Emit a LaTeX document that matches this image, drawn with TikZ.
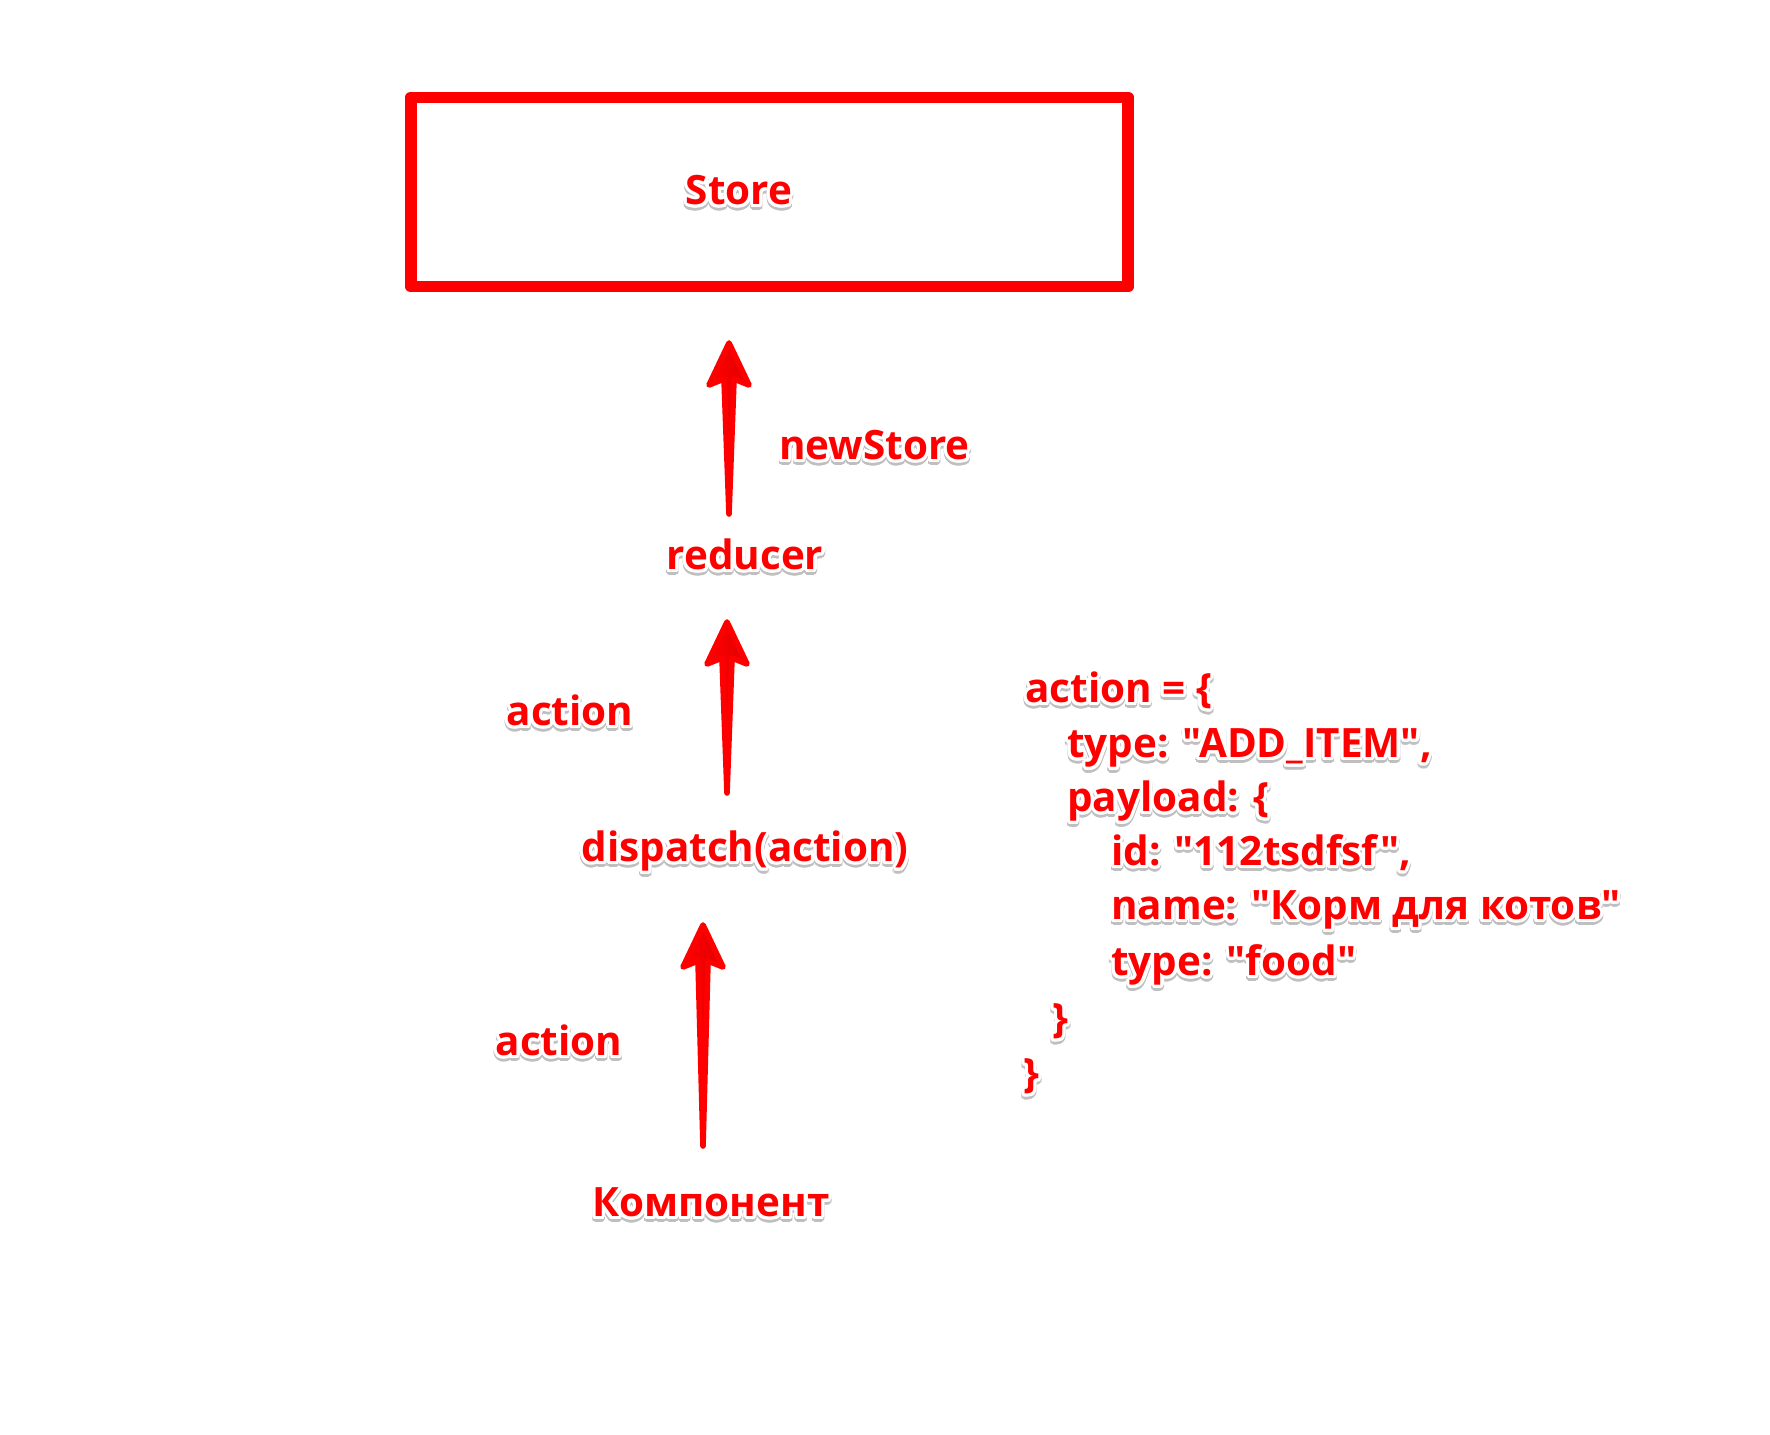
\documentclass[tikz,border=0pt]{standalone}
\usepackage{fontspec}
\usepackage{tikz}
\usepackage{xcolor}
\usepackage{contour}
\usetikzlibrary{calc}
\newfontfamily\lblfont{Open Sans Bold}

\definecolor{storered}{RGB}{255,0,0}
\contourlength{1.8pt}
\contournumber{20}

% texto con halo blanco y sombra gris
\newcommand{\halo}[1]{\leavevmode\rlap{\raisebox{-1.5pt}{\color{black!25}\contour{black!25}{#1}}}\contour{white}{#1}}

% flecha gruesa (cola, punta)
\newcommand{\fatarrow}[2]{%
  \filldraw[arrowbody] (#2) -- ($(#2)+(20,42)$) -- ($(#2)+(5,36)$) -- (#1)
    -- ($(#2)+(-5,36)$) -- ($(#2)+(-20,42)$) -- cycle;}

\tikzset{
  lbl/.style={text=storered, font=\fontsize{23}{27}\selectfont\lblfont, inner sep=0pt,
    text height=0.75em, text depth=0.22em},
  codeline/.style={lbl, anchor=west},
  arrowbody/.style={draw=storered, left color=storered, right color=storered!88!black,
    shading angle=90, line width=3.2pt, line join=round},
}

\begin{document}
\begin{tikzpicture}[x=0.02cm, y=-0.02cm]
  \useasboundingbox (0,0) rectangle (1770,1435);
  % Store
  \node[draw=storered, line width=6.8pt, line join=round, minimum width=14.36cm,
    minimum height=3.78cm, inner sep=0pt] (storebox) at (769.5,192) {};
  \node[lbl] (store) at (739,200) {\halo{Store}};
  % etiquetas
  \node[lbl] (reducer) at (745,565) {\halo{reducer}};
  \node[lbl, anchor=west] (newstore) at (779,455) {\halo{newStore}};
  \node[lbl] (dispatch) at (745,857) {\halo{dispatch(action)}};
  \node[lbl] (action1) at (570,721) {\halo{action}};
  \node[lbl] (action2) at (559,1051) {\halo{action}};
  \node[lbl] (component) at (711,1212) {\halo{Компонент}};
  % flechas
  \coordinate (tail1) at (729,514);
  \coordinate (tip1) at (729,343);
  \coordinate (tail2) at (727,793);
  \coordinate (tip2) at (727,622);
  \coordinate (tail3) at (703,1146);
  \coordinate (tip3) at (703,925);
  \fatarrow{tail1}{tip1}
  \fatarrow{tail2}{tip2}
  \fatarrow{tail3}{tip3}
  % objeto action
  \node[codeline] (c1) at (1025,698) {\halo{action = \{}};
  \node[codeline] (c2) at (1067,753) {\halo{type: "ADD\_ITEM",}};
  \node[codeline] (c3) at (1067,807) {\halo{payload: \{}};
  \node[codeline] (c4) at (1111,861) {\halo{id: "112tsdfsf",}};
  \node[codeline] (c5) at (1111,915) {\halo{name: "Корм для котов"}};
  \node[codeline] (c6) at (1111,971) {\halo{type: "food"}};
  \node[codeline] (c7) at (1052,1028) {\halo{\}}};
  \node[codeline] (c8) at (1023,1083) {\halo{\}}};
\end{tikzpicture}
\end{document}
